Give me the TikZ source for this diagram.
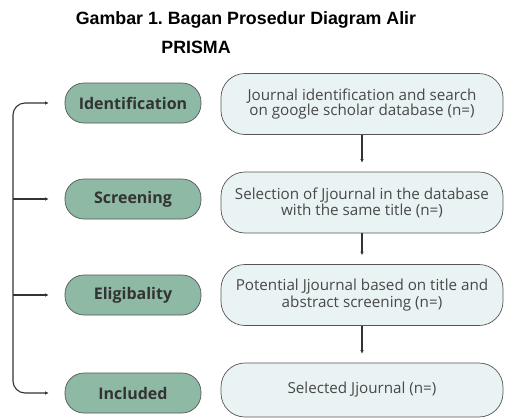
\documentclass[tikz,border=0pt]{standalone}
\usepackage{fontspec}
\setmainfont{Open Sans}
\newfontfamily\titlefont{Liberation Sans}
\usetikzlibrary{arrows.meta}
\definecolor{sage}{HTML}{8DB9A5}
\definecolor{paleblue}{HTML}{EAF3F4}
\definecolor{edge}{HTML}{555555}
\definecolor{ink}{HTML}{333333}
\definecolor{softink}{HTML}{484848}

\begin{document}
\begin{tikzpicture}[x=1pt,y=-1pt,
  stage/.style={draw=edge,line width=0.7pt,fill=sage,rounded corners=19pt,
    minimum width=136pt,minimum height=40pt,inner sep=0pt,
    font=\fontsize{16}{18}\selectfont\bfseries,text=ink},
  task/.style={draw=edge,line width=0.7pt,fill=paleblue,rounded corners=24pt,
    minimum width=282pt,minimum height=61pt,inner sep=0pt,align=center,
    font=\fontsize{15.2}{14.5}\selectfont,text=softink},
  conn/.style={draw=ink,line width=1.1pt,-{Latex[length=3.5pt,width=3.5pt]}}]
\useasboundingbox (0,0) rectangle (507,418);
% title
\node (title) at (246,20) {\titlefont\fontsize{17.8}{20}\selectfont\bfseries Gambar 1.\ Bagan Prosedur Diagram Alir};
\node (subtitle) at (196,47) {\titlefont\fontsize{17.8}{20}\selectfont\bfseries PRISMA};
% stages
\node [stage] (ident) at (133,103) {Identification};
\node [stage] (scr) at (133,199) {Screening};
\node [stage] (elig) at (133,295) {Eligibality};
\node [stage] (incl) at (133,393) {Included};
% tasks
\node [task] (j1) at (362,104) {Journal identification and search\\on google scholar database (n=)};
\node [task] (j2) at (362,202.5) {Selection of Jjournal in the database\\with the same title (n=)};
\node [task] (j3) at (362,295) {Potential Jjournal based on title and\\abstract screening (n=)};
\node [task,minimum height=54pt] (j4) at (362,390) {Selected Jjournal (n=)};
% flow
\draw [conn,shorten >=9pt] (j1.south) -- (j2.north);
\draw [conn,shorten >=9pt] (j2.south) -- (j3.north);
\draw [conn,shorten >=9pt] (j3.south) -- (j4.north);
% bracket
\coordinate (spine) at (13,0);
\draw [conn,rounded corners=12pt,shorten >=16pt] (spine |- scr.west) -- (spine |- ident.west) -- (ident.west);
\draw [conn,rounded corners=12pt,shorten >=16pt] (spine |- scr.west) -- (spine |- incl.west) -- (incl.west);
\draw [conn,shorten >=16pt] (spine |- scr.west) -- (scr.west);
\draw [conn,shorten >=16pt] (spine |- elig.west) -- (elig.west);
\end{tikzpicture}
\end{document}
